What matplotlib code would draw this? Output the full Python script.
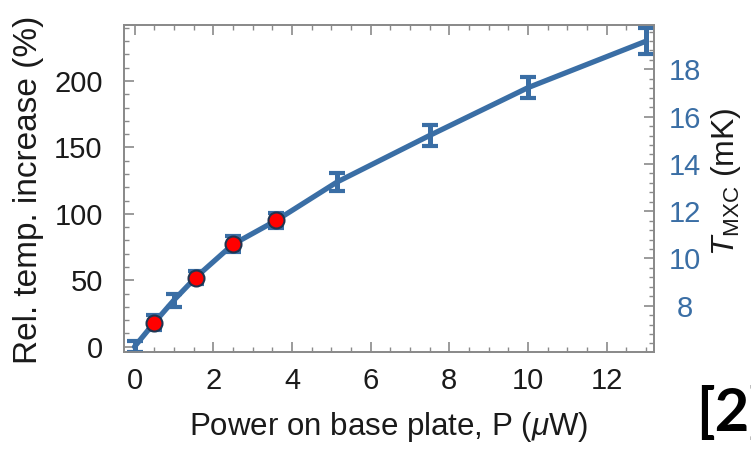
import matplotlib
matplotlib.use("Agg")
import matplotlib.pyplot as plt
from matplotlib.ticker import MultipleLocator

plt.rcParams['font.family'] = ['Liberation Sans', 'DejaVu Sans']
plt.rcParams['mathtext.fontset'] = 'custom'
plt.rcParams['mathtext.rm'] = 'Liberation Sans'
plt.rcParams['mathtext.it'] = 'Liberation Sans:italic'

# Data
power_uW = [0.0, 0.5, 1.0, 1.55, 2.5, 3.6, 5.15, 7.5, 10.0, 13.0]
rel_increase = [0, 18, 35, 52, 77, 95, 124, 159, 195, 230]
rel_err = [4, 5.5, 5, 5, 6, 5.5, 6.5, 8, 8, 9.5]
red_power = [0.5, 1.55, 2.5, 3.6]
red_rel = [18, 52, 77, 95]
x_ticks = [0, 2, 4, 6, 8, 10, 12]
left_ticks = [0, 50, 100, 150, 200]
right_ticks = [8, 10, 12, 14, 16, 18]

blue = '#3a6ea5'
frame = '#8a8a8a'
txt = '#1a1a1a'

W, H = 751, 450
fig = plt.figure(figsize=(W / 100, H / 100), dpi=100)
L, R, T, B = 123.5, 654, 24.5, 352
ax = fig.add_axes([L / W, 1 - B / H, (R - L) / W, (B - T) / H])

ax.plot(power_uW, rel_increase, color=blue, lw=3.8, zorder=2,
        solid_capstyle='round')
ax.errorbar(power_uW, rel_increase, yerr=rel_err, fmt='none', ecolor=blue,
            elinewidth=3.6, capsize=6, capthick=3, zorder=3)
ax.plot(red_power, red_rel, 'o', color='red', mec='#1f3550', mew=1.5,
        ms=11.5, zorder=4)

ax.set_xlim(-0.28, 13.2)
ax.set_ylim(-4, 242.5)
ax.set_xticks(x_ticks)
ax.set_yticks(left_ticks)
ax.xaxis.set_minor_locator(MultipleLocator(0.5))
ax.yaxis.set_minor_locator(MultipleLocator(10))
for s in ax.spines.values():
    s.set_color(frame)
    s.set_linewidth(1.3)
ax.tick_params(which='both', direction='in', top=True, right=False,
               color=frame, labelsize=21, labelcolor=txt)
ax.tick_params(which='major', length=7, width=1.2)
ax.tick_params(which='minor', length=3.5, width=1.0)
ax.tick_params(axis='x', pad=11)
ax.tick_params(axis='y', pad=15)

ax.set_xlabel(r'Power on base plate, P ($\mu$W)', fontsize=22.5, color=txt)
ax.xaxis.set_label_coords(0.5, (B - 427) / (B - T))
ax.xaxis.label.set_verticalalignment('center')
ax.set_ylabel('Rel. temp. increase (%)', fontsize=24, color=txt)
ax.yaxis.set_label_coords((28 - L) / (R - L), (B - 190) / (B - T))
ax.yaxis.label.set_verticalalignment('center')

ax2 = ax.twinx()
ax2.set_ylim(6.04, 19.9)
ax2.set_yticks(right_ticks)
ax2.yaxis.set_minor_locator(MultipleLocator(0.4))
for s in ax2.spines.values():
    s.set_color(frame)
    s.set_linewidth(1.3)
ax2.tick_params(which='both', direction='in', color=frame, labelsize=21,
                labelcolor=blue, pad=22)
ax2.tick_params(which='major', length=7, width=1.2)
ax2.tick_params(which='minor', length=3.5, width=1.0)
for lab in ax2.get_yticklabels():
    lab.set_horizontalalignment('center')
ax2.set_ylabel(r'$T_{\rm MXC}$ (mK)', fontsize=23, color=txt)
ax2.yaxis.set_label_coords((726 - L) / (R - L), (B - 182) / (B - T))
ax2.yaxis.label.set_verticalalignment('center')

fig.text(696 / W, 1 - 431 / H, '[2]', fontsize=43, fontweight='bold',
         family=['Lato', 'DejaVu Sans'], ha='left', va='baseline', color='black')

fig.savefig('out.png', dpi=100)
